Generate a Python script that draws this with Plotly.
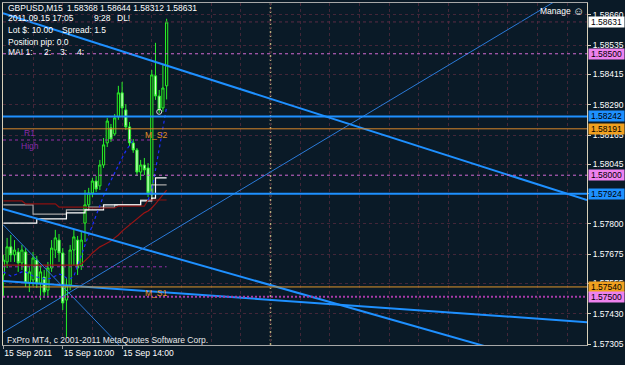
import plotly.graph_objects as go

# ---------------- data ----------------
bars = list(range(45))  # M15 bars, 06:00 .. 17:00 on 15 Sep 2011
opens = [1.57589, 1.57643, 1.57705, 1.57672, 1.57684, 1.57639, 1.57684, 1.57556, 1.57569, 1.57651,
         1.57556, 1.57581, 1.57527, 1.57618, 1.57692, 1.57733, 1.57680, 1.57486, 1.57548, 1.57692,
         1.57733, 1.57626, 1.57803, 1.57878, 1.57927, 1.57976, 1.57956, 1.58042, 1.58133, 1.58195,
         1.58170, 1.58240, 1.58339, 1.58269, 1.58199, 1.58133, 1.58104, 1.58013, 1.58042, 1.58030,
         1.57919, 1.58409, 1.58326, 1.58277, 1.58368]
highs = [1.57672, 1.57742, 1.57754, 1.57733, 1.57700, 1.57713, 1.57700, 1.57626, 1.57684, 1.57668,
         1.57630, 1.57610, 1.57643, 1.57733, 1.57775, 1.57758, 1.57700, 1.57577, 1.57713, 1.57775,
         1.57750, 1.57766, 1.57939, 1.57948, 1.57989, 1.57997, 1.58063, 1.58153, 1.58236, 1.58211,
         1.58252, 1.58368, 1.58384, 1.58293, 1.58219, 1.58149, 1.58112, 1.58063, 1.58071, 1.58050,
         1.58433, 1.58545, 1.58351, 1.58454, 1.58644]
lows = [1.57499, 1.57618, 1.57643, 1.57643, 1.57602, 1.57610, 1.57540, 1.57519, 1.57544, 1.57536,
        1.57486, 1.57495, 1.57503, 1.57602, 1.57659, 1.57643, 1.57445, 1.57334, 1.57527, 1.57630,
        1.57589, 1.57610, 1.57725, 1.57857, 1.57910, 1.57931, 1.57939, 1.58030, 1.58116, 1.58137,
        1.58162, 1.58228, 1.58244, 1.58186, 1.58120, 1.58092, 1.57997, 1.57980, 1.58001, 1.57910,
        1.57902, 1.58310, 1.58256, 1.58261, 1.58312]
closes = [1.57651, 1.57705, 1.57672, 1.57692, 1.57639, 1.57692, 1.57556, 1.57602, 1.57659, 1.57556,
          1.57602, 1.57519, 1.57618, 1.57700, 1.57742, 1.57680, 1.57474, 1.57548, 1.57692, 1.57746,
          1.57618, 1.57733, 1.57878, 1.57927, 1.57976, 1.57943, 1.58042, 1.58125, 1.58223, 1.58149,
          1.58236, 1.58339, 1.58277, 1.58199, 1.58133, 1.58104, 1.58013, 1.58042, 1.58022, 1.57927,
          1.58413, 1.58326, 1.58269, 1.58359, 1.58631]

# indicator lines (MA 1..4)
ma_white = [1.57803]*9 + [1.57820]*8 + [1.57845]*5 + [1.57857]*5 + [1.57878]*10 + [1.57894]*3 + [1.57906] + [1.57989]*4
ma_gray = [1.57878]*8 + [1.57840]*9 + [1.57857]*6 + [1.57869]*7 + [1.57878]*7 + [1.57898]*3 + [1.57960]*5
ma_red1 = [1.57894]*6 + [1.57882]*9 + [1.57869]*8 + [1.57865]*8 + [1.57873]*8 + [1.57898]*6
ma_red2 = [1.57630]*21 + [1.57634, 1.57647, 1.57663, 1.57680, 1.57692, 1.57705, 1.57713, 1.57721,
                          1.57729, 1.57742, 1.57754, 1.57770, 1.57783, 1.57795, 1.57808, 1.57820,
                          1.57832, 1.57845, 1.57853, 1.57865, 1.57882, 1.57902, 1.57923, 1.57939]
ma_blue = [1.57602, 1.57593, 1.57585, 1.57589, 1.57597, 1.57602, 1.57602, 1.57593, 1.57585, 1.57581,
           1.57577, 1.57573, 1.57573, 1.57577, 1.57585, 1.57593, 1.57589, 1.57577, 1.57573, 1.57585,
           1.57626, 1.57672, 1.57713, 1.57754, 1.57795, 1.57836, 1.57878, 1.57915, 1.57948, 1.57980,
           1.58013, 1.58042, 1.58071, 1.58100, 1.58125, 1.58145, None, None, None, 1.57898,
           1.57939, 1.58022, 1.58104, 1.58195, 1.58281]

# axis ticks
xtick_bars = [0, 16, 32]
xtick_text = ["15 Sep 2011", "15 Sep 10:00", "15 Sep 14:00"]
ytick_vals = [1.58660, 1.58535, 1.58415, 1.58290, 1.58165, 1.58045, 1.57925,
              1.57800, 1.57675, 1.57555, 1.57430, 1.57305]

# horizontal levels with price labels
level_prices = [1.58631, 1.58500, 1.58242, 1.58191, 1.58000, 1.57924, 1.57540, 1.57500]
level_colors = ["#5c2c44", "#d46ad4", "#1e90ff", "#d8862a", "#d46ad4", "#1e90ff", "#e0962a", "#a83aa8"]
level_widths = [1, 1, 2, 1, 1, 2, 1, 2]
level_dash = ["3px,3px", "3px,3px", "solid", "solid", "3px,3px", "solid", "solid", "2px,2px"]
label_bg = ["#ffffff", "#ee82ee", "#1e90ff", "#f0a020", "#ee82ee", "#1e90ff", "#f0a020", "#ee82ee"]

# short pivot lines (price, last bar)
pivot_prices = [1.58145, 1.57623]
pivot_end = [40, 44]

# trend lines: two anchor points each (bar, price)
tl_a = [(0, 1.58667), (0, 1.57861), (0, 1.57564), (0, 1.57354), (0, 1.57795)]
tl_b = [(150, 1.57933), (150, 1.57208), (150, 1.57403), (100, 1.58270), (30, 1.57320)]
tl_width = [2, 2, 2, 1, 1]

separator_bar = 72
marker_bar, marker_price = 42, 1.58261

# ---------------- layout constants ----------------
W, H = 625, 365
PL, PR, PT, PB = 3, 587, 3, 345
XR = [-0.1, 157.3]
YR = [1.57301, 1.58709]
BG = "#0a1a27"
GRID = "#432638"
FONT = "Liberation Sans, Arial, sans-serif"
FS = 8.5


def fx(px):
    return (px - PL) / (PR - PL)


def fy(py):
    return (PB - py) / (PB - PT)


fig = go.Figure()

fig.add_trace(go.Candlestick(
    x=bars, open=opens, high=highs, low=lows, close=closes,
    increasing=dict(line=dict(color="#28f028", width=1), fillcolor="#0a2414"),
    decreasing=dict(line=dict(color="#28f028", width=1), fillcolor="#d8ffd0"),
    whiskerwidth=0, hoverinfo="skip", showlegend=False))

for ys, col, dash, shp in [(ma_gray, "#a8a8a8", "solid", "hv"), (ma_white, "#ffffff", "solid", "hv"),
                           (ma_red1, "#8b1010", "solid", "linear"), (ma_red2, "#9a1414", "solid", "linear"),
                           (ma_blue, "#1a2cff", "dot", "linear")]:
    fig.add_trace(go.Scatter(x=bars, y=ys, mode="lines", line=dict(color=col, width=1.2, dash=dash, shape=shp),
                             hoverinfo="skip", showlegend=False, connectgaps=False))

# trend lines extended across the visible range
for (xa, ya), (xb, yb), w in zip(tl_a, tl_b, tl_width):
    slope = (yb - ya) / (xb - xa)
    xs = [XR[0], XR[1]]
    ys = [ya + slope * (x - xa) for x in xs]
    fig.add_trace(go.Scatter(x=xs, y=ys, mode="lines",
                             line=dict(color="#1e90ff" if w == 2 else "#2a7ad8", width=w),
                             hoverinfo="skip", showlegend=False))

fig.add_trace(go.Scatter(x=[marker_bar], y=[marker_price], mode="markers",
                         marker=dict(symbol="circle-open", size=5, color="#e0e0e0", line=dict(width=1)),
                         hoverinfo="skip", showlegend=False))

shapes = []
for p, c, w, d in zip(level_prices, level_colors, level_widths, level_dash):
    shapes.append(dict(type="line", xref="paper", x0=0, x1=1, yref="y", y0=p, y1=p,
                       line=dict(color=c, width=w, dash=d)))
for p, e in zip(pivot_prices, pivot_end):
    shapes.append(dict(type="line", xref="x", x0=XR[0], x1=e, yref="y", y0=p, y1=p,
                       line=dict(color="#9a30a8", width=1, dash="3px,3px")))
shapes.append(dict(type="line", xref="x", x0=separator_bar, x1=separator_bar, yref="paper", y0=0, y1=1,
                   line=dict(color="#b8a878", width=1.5, dash="2px,2px"), layer="below"))

ann = []
for p, bg in zip(level_prices, label_bg):
    ann.append(dict(xref="paper", x=fx(588), xanchor="left", yref="y", y=p, yanchor="middle",
                    text=f"{p:.5f}", showarrow=False, bgcolor=bg, borderpad=0, width=35, height=10,
                    font=dict(family=FONT, size=FS, color="#000000")))


def txt(px, py, s, color="#ffffff", size=FS):
    ann.append(dict(xref="paper", yref="paper", x=fx(px), y=fy(py), xanchor="left", yanchor="middle",
                    text=s, showarrow=False, font=dict(family=FONT, size=size, color=color)))


txt(6, 8, "GBPUSD,M15")
txt(65, 8, "1.58368 1.58644 1.58312 1.58631")
txt(6, 18.5, "2011.09.15 17:05")
txt(92, 18.5, "9:28")
txt(115, 18.5, "DL!")
txt(6, 30.5, "Lot $: 10.00")
txt(60, 30.5, "Spread: 1.5")
txt(6, 42, "Position pip: 0.0")
txt(6, 52, "MA! 1:")
txt(42, 52, "2:")
txt(58, 52, "3:")
txt(75, 52, "4:")
txt(22, 133, "R1", "#8a2aa8")
txt(19, 146, "High", "#8a2aa8")
txt(143, 135, "M_S2", "#e0902a")
txt(143, 293, "M_S1", "#e0902a")
txt(538, 11, "Manage", "#ffffff")
txt(571, 11, "☺", "#ffffff", 11)
txt(5, 340, "FxPro MT4, c 2001-2011 MetaQuotes Software Corp.", "#e8e8e8")

fig.update_layout(
    template="none",
    width=W, height=H, margin=dict(l=PL, r=W - PR, t=PT, b=H - PB, autoexpand=False),
    paper_bgcolor=BG, plot_bgcolor=BG, showlegend=False, boxgap=0.15,
    shapes=shapes, annotations=ann,
    xaxis=dict(range=XR, rangeslider=dict(visible=False), tickmode="array", tickvals=xtick_bars,
               ticktext=xtick_text, ticklabelposition="outside right", tickangle=0, automargin=False,
               ticks="outside", ticklen=3,
               tickcolor="#a0a0a0", tickfont=dict(family=FONT, size=FS, color="#ffffff"),
               showgrid=True, gridcolor=GRID, griddash="3px,3px", gridwidth=1,
               minor=dict(tickmode="linear", tick0=0, dtick=8, showgrid=True, gridcolor=GRID,
                          griddash="3px,3px", gridwidth=1, ticks=""),
               showline=True, linecolor="#a8a8a8", linewidth=1, mirror=True, zeroline=False, fixedrange=True),
    yaxis=dict(range=YR, side="right", tickmode="array", tickvals=ytick_vals, automargin=False,
               ticktext=[f"{v:.5f}" for v in ytick_vals], ticks="outside", ticklen=3,
               tickcolor="#d8d0b8", tickfont=dict(family=FONT, size=FS, color="#ffffff"),
               showgrid=True, gridcolor=GRID, griddash="3px,3px", gridwidth=1,
               showline=True, linecolor="#d8d0b8", linewidth=1, mirror=True, zeroline=False, fixedrange=True),
)

fig.write_html("out.html")
